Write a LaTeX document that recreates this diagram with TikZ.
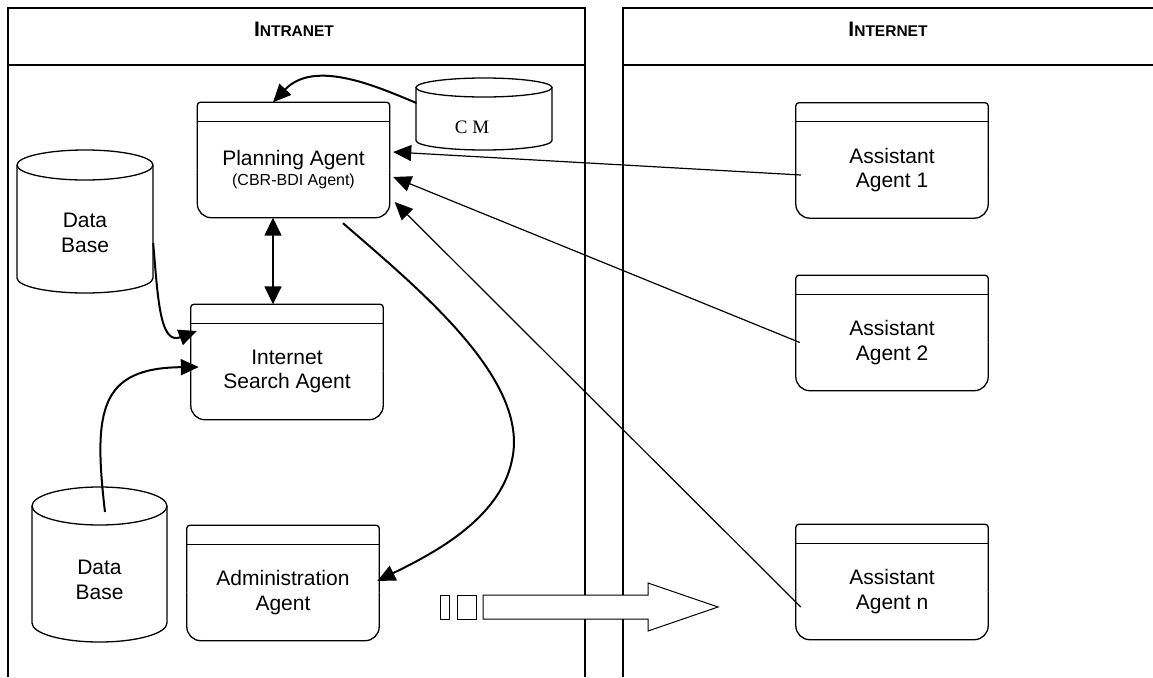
\documentclass[tikz,border=0pt]{standalone}
\usepackage{fontspec}
\setmainfont{Liberation Sans}
\newfontfamily\timesfont{Liberation Serif}
\usetikzlibrary{arrows.meta}
\tikzset{
  lane/.style={line width=1.6pt},
  boxline/.style={line width=1.3pt},
  agenttext/.style={minimum width=192pt, minimum height=96pt, inner sep=0pt, align=center, font=\fontsize{21}{24.5}\selectfont},
  cyltext/.style={inner sep=0pt, align=center, font=\fontsize{21}{24.5}\selectfont},
  hdr/.style={anchor=base, inner sep=0pt, font=\bfseries},
  conn/.style={line width=1.2pt, -{Triangle[length=18pt,width=16pt]}},
  curv/.style={line width=2pt, -{Triangle[length=18pt,width=16pt]}},
  dbl/.style={line width=1.6pt, {Triangle[length=18pt,width=17pt]}-{Triangle[length=18pt,width=17pt]}},
  tofu/.style={line width=1pt},
}
\newcommand\agentoutline[1]{%
  \draw[boxline,rounded corners=14pt] (#1.west) -- (#1.south west) -- (#1.south east) -- (#1.east);
  \draw[boxline,rounded corners=3pt] (#1.east) -- ([yshift=19pt]#1.north east) -- ([yshift=19pt]#1.north west) -- (#1.west);
  \draw[boxline] (#1.north west) -- (#1.north east);
}
\begin{document}
\begin{tikzpicture}[x=1pt,y=-1pt]
\useasboundingbox (0,0) rectangle (1153,677);

% lanes
\draw[lane] (8,677) -- (8,8) -- (585,8) -- (585,677);
\draw[lane] (8,65) -- (585,65);
\draw[lane] (623,677) -- (623,8) -- (1160,8);
\draw[lane] (623,65) -- (1160,65);
\node[hdr] (intra) at (294,37) {{\fontsize{21}{24}\selectfont I}{\fontsize{15.5}{18}\selectfont NTRANET}};
\node[hdr] (inter) at (888,37) {{\fontsize{21}{24}\selectfont I}{\fontsize{15.5}{18}\selectfont NTERNET}};

% agents
\node[agenttext] (plan) at (293.5,169.5) {Planning Agent\\[-4pt]{\fontsize{16}{18}\selectfont (CBR-BDI Agent)}};
\agentoutline{plan}
\node[agenttext] (search) at (287,371.5) {Internet\\Search Agent};
\agentoutline{search}
\node[agenttext] (admin) at (283,592.5) {Administration\\Agent};
\agentoutline{admin}
\node[agenttext] (a1) at (892,170) {Assistant\\Agent 1};
\agentoutline{a1}
\node[agenttext] (a2) at (892,342.5) {Assistant\\Agent 2};
\agentoutline{a2}
\node[agenttext] (an) at (892,591.5) {Assistant\\Agent n};
\agentoutline{an}

% cylinders
\draw[boxline] (17,165) -- (17,278) arc (180:0:68 and 15) -- (153,165);
\draw[boxline] (85,165) ellipse (68 and 15);
\node[cyltext, minimum width=136pt] (db1) at (85,233) {Data\\Base};

\draw[boxline] (32,506) -- (32,623) arc (180:0:67.5 and 19) -- (167,506);
\draw[boxline] (99.5,506) ellipse (67.5 and 19);
\node[cyltext, minimum width=135pt] (db2) at (99.5,580) {Data\\Base};
\coordinate (db2top) at (105,512);

\draw[boxline] (416,87.5) -- (416,140.5) arc (180:0:68 and 9.5) -- (552,87.5);
\draw[boxline] (484,87.5) ellipse (68 and 9.5);
\node[inner sep=0pt, font=\timesfont\fontsize{19}{22}\selectfont] (cm) at (472,127) {C M};
\coordinate (cmside) at (416.5,103);

% connectors
\draw[curv] (cmside) .. controls (380,88) and (315,58) .. ([xshift=-20.5pt,yshift=19pt]plan.north);
\draw[dbl] ([xshift=-20.5pt]plan.south) -- ([xshift=-14pt,yshift=19pt]search.north);
\draw[curv] ([yshift=-10pt]db1.east) .. controls (158,300) and (160,345) .. ([xshift=6pt,yshift=40.5pt]search.west);
\draw[curv] (db2top) .. controls (93,410) and (100,368) .. ([xshift=8pt,yshift=4.5pt]search.west);
\draw[curv] ([xshift=49.5pt,yshift=-5.5pt]plan.south) .. controls (420,290) and (530,380) .. (512,460)
  .. controls (500,520) and (430,555) .. ([xshift=-2pt,yshift=11.5pt]admin.east);
\draw[conn] ([xshift=5pt,yshift=-5pt]a1.west) -- ([xshift=3.5pt,yshift=17.5pt]plan.east);
\draw[conn] ([xshift=4pt]a2.west) -- ([xshift=3.5pt,yshift=-7.5pt]plan.east);
\draw[conn] ([xshift=5pt,yshift=-15.5pt]an.west) -- ([xshift=5pt,yshift=-32.5pt]plan.east);

% block arrow and boxes
\draw[tofu, fill=white] (483,595) -- (648,595) -- (648,583) -- (718,607) -- (648,631) -- (648,619) -- (483,619) -- cycle;
\draw[tofu] (440,595) rectangle (449,619);
\draw[tofu] (457,595) rectangle (476,619);
\end{tikzpicture}
\end{document}
